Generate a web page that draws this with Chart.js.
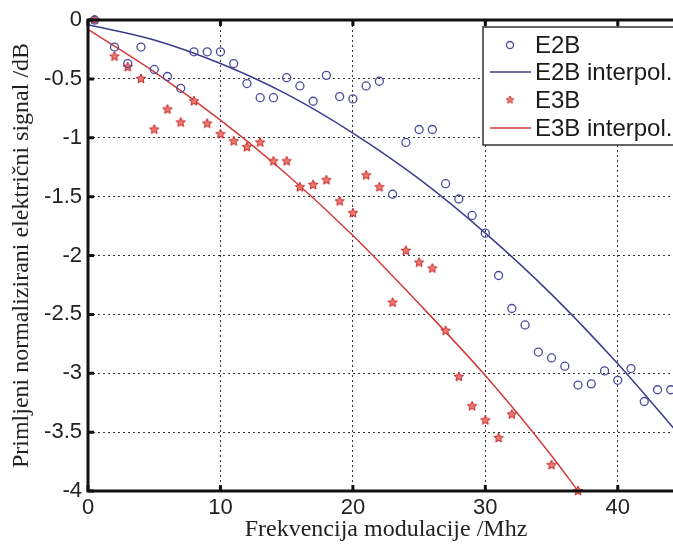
<!DOCTYPE html>
<html>
<head>
<meta charset="utf-8">
<script src="https://cdn.jsdelivr.net/npm/chart.js@4.4.0/dist/chart.umd.min.js"></script>
<style>
  html, body { margin: 0; padding: 0; background: #fff; overflow: hidden; }
  #wrap { position: relative; width: 700px; height: 545px; }
</style>
</head>
<body>
<div id="wrap"><canvas id="chart"></canvas></div>
<script>
// measured points (frequency in MHz, normalized signal in dB)
const e2bFreq = [0.5, 2, 3, 4, 5, 6, 7, 8, 9, 10, 11, 12, 13, 14, 15, 16, 17, 18, 19, 20, 21, 22,
  23, 24, 25, 26, 27, 28, 29, 30, 31, 32, 33, 34, 35, 36, 37, 38, 39, 40, 41, 42, 43, 44];
const e2bVals = [0, -0.23, -0.37, -0.23, -0.42, -0.48, -0.58, -0.27, -0.27, -0.27, -0.37, -0.54,
  -0.66, -0.66, -0.49, -0.56, -0.69, -0.47, -0.65, -0.67, -0.56, -0.52, -1.48, -1.04, -0.93, -0.93,
  -1.39, -1.52, -1.66, -1.81, -2.17, -2.45, -2.59, -2.82, -2.87, -2.94, -3.10, -3.09, -2.98, -3.06,
  -2.96, -3.24, -3.14, -3.14];

const e3bFreq = [0.5, 2, 3, 4, 5, 6, 7, 8, 9, 10, 11, 12, 13, 14, 15, 16, 17, 18, 19, 20, 21, 22,
  23, 24, 25, 26, 27, 28, 29, 30, 31, 32, 35, 37];
const e3bVals = [0, -0.31, -0.40, -0.50, -0.93, -0.76, -0.87, -0.69, -0.88, -0.97, -1.03, -1.08,
  -1.04, -1.20, -1.20, -1.42, -1.40, -1.36, -1.54, -1.64, -1.32, -1.42, -2.40, -1.96, -2.06, -2.11,
  -2.64, -3.03, -3.28, -3.40, -3.55, -3.35, -3.78, -4.0];

// interpolation curves
const e2bFitFreq = [0, 5, 10, 15, 20, 25, 30, 35, 40, 45];
const e2bFitVals = [-0.04, -0.17, -0.37, -0.63, -0.96, -1.35, -1.81, -2.33, -2.92, -3.57];
const e3bFitFreq = [0, 5, 10, 15, 20, 25, 30, 35, 37];
const e3bFitVals = [-0.08, -0.44, -0.85, -1.31, -1.83, -2.41, -3.02, -3.70, -4.0];

const legendLabels = ["E2B", "E2B interpol.", "E3B", "E3B interpol."];
const xTitle = "Frekvencija modulacije /Mhz";
const yTitle = "Primljeni normalizirani električni signal /dB";

const BLUE = "#4a4a9c";
const BLUE_LINE = "#3b3b8e";
const RED = "#d23a3a";
const STAR_FILL = "#f07a72";
const SANS = "'Liberation Sans', Arial, sans-serif";
const SERIF = "'Liberation Serif', 'Times New Roman', serif";

const toXY = (xs, ys) => xs.map((x, i) => ({ x: x, y: ys[i] }));

function makeStar(size) {
  const c = document.createElement("canvas");
  c.width = size;
  c.height = size;
  const g = c.getContext("2d");
  const cx = size / 2, cy = size / 2, ro = size / 2 - 1, ri = ro * 0.45;
  g.beginPath();
  for (let i = 0; i < 10; i++) {
    const r = i % 2 === 0 ? ro : ri;
    const a = -Math.PI / 2 + i * Math.PI / 5;
    const px = cx + r * Math.cos(a), py = cy + r * Math.sin(a);
    if (i === 0) g.moveTo(px, py); else g.lineTo(px, py);
  }
  g.closePath();
  g.fillStyle = STAR_FILL;
  g.fill();
  g.strokeStyle = "#c02828";
  g.lineWidth = 1;
  g.stroke();
  return c;
}
const starImg = makeStar(12);

// axes frame + inward ticks + matlab-like legend box
const framePlugin = {
  id: "frame",
  afterDatasetsDraw(chart) {
    const { ctx, chartArea: a, scales } = chart;
    ctx.save();
    ctx.strokeStyle = "#111";
    ctx.lineWidth = 3;
    ctx.beginPath();
    ctx.moveTo(a.left - 1.5, a.top);
    ctx.lineTo(a.right, a.top);
    ctx.moveTo(a.left, a.top);
    ctx.lineTo(a.left, a.bottom);
    ctx.moveTo(a.left - 1.5, a.bottom);
    ctx.lineTo(a.right, a.bottom);
    ctx.stroke();
    ctx.beginPath();
    scales.x.ticks.forEach((t) => {
      const px = scales.x.getPixelForValue(t.value);
      ctx.moveTo(px, a.bottom);
      ctx.lineTo(px, a.bottom - 6);
      ctx.moveTo(px, a.top);
      ctx.lineTo(px, a.top + 6);
    });
    scales.y.ticks.forEach((t) => {
      const py = scales.y.getPixelForValue(t.value);
      ctx.moveTo(a.left, py);
      ctx.lineTo(a.left + 6, py);
    });
    ctx.stroke();
    ctx.restore();
  },
  afterDraw(chart) {
    const ctx = chart.ctx;
    const bx = 483, by = 27, bw = 215, bh = 118;
    ctx.save();
    ctx.fillStyle = "#fff";
    ctx.fillRect(bx, by, bw, bh);
    ctx.strokeStyle = "#333";
    ctx.lineWidth = 1.5;
    ctx.strokeRect(bx, by, bw, bh);
    const rows = [45, 72, 100, 128];
    // E2B marker
    ctx.strokeStyle = BLUE;
    ctx.lineWidth = 1.3;
    ctx.beginPath();
    ctx.arc(510, rows[0], 3.5, 0, Math.PI * 2);
    ctx.stroke();
    // E2B line
    ctx.strokeStyle = BLUE_LINE;
    ctx.lineWidth = 1.5;
    ctx.beginPath();
    ctx.moveTo(490, rows[1]);
    ctx.lineTo(531, rows[1]);
    ctx.stroke();
    // E3B star
    ctx.drawImage(starImg, 510 - 5, rows[2] - 5, 10, 10);
    // E3B line
    ctx.strokeStyle = RED;
    ctx.beginPath();
    ctx.moveTo(490, rows[3]);
    ctx.lineTo(531, rows[3]);
    ctx.stroke();
    ctx.fillStyle = "#1a1a1a";
    ctx.font = "24px " + SANS;
    ctx.textBaseline = "middle";
    legendLabels.forEach((lbl, i) => ctx.fillText(lbl, 535, rows[i] + 1));
    ctx.restore();
  },
};

const gridStyle = {
  color: "#333",
  lineWidth: 1,
  drawTicks: false,
};

new Chart("chart", {
  type: "scatter",
  data: {
    datasets: [
      {
        label: legendLabels[0],
        data: toXY(e2bFreq, e2bVals),
        pointStyle: "circle",
        pointRadius: 4,
        borderColor: BLUE,
        backgroundColor: "rgba(0,0,0,0)",
        borderWidth: 1.3,
        showLine: false,
      },
      {
        label: legendLabels[1],
        data: toXY(e2bFitFreq, e2bFitVals),
        showLine: true,
        borderColor: BLUE_LINE,
        borderWidth: 1.5,
        pointRadius: 0,
        cubicInterpolationMode: "monotone",
      },
      {
        label: legendLabels[2],
        data: toXY(e3bFreq, e3bVals),
        pointStyle: starImg,
        pointRadius: 5,
        showLine: false,
      },
      {
        label: legendLabels[3],
        data: toXY(e3bFitFreq, e3bFitVals),
        showLine: true,
        borderColor: RED,
        borderWidth: 1.5,
        pointRadius: 0,
        cubicInterpolationMode: "monotone",
      },
    ],
  },
  options: {
    responsive: true,
    maintainAspectRatio: false,
    animation: false,
    clip: false,
    layout: { padding: { top: 20, right: 16, left: 0, bottom: 0 } },
    plugins: {
      legend: { display: false },
      tooltip: { enabled: false },
    },
    scales: {
      x: {
        type: "linear",
        min: 0,
        max: 45,
        afterFit(s) { s.height = 54; },
        ticks: {
          stepSize: 10,
          includeBounds: false,
          padding: 4,
          maxRotation: 0,
          color: "#222",
          font: { family: SANS, size: 22 },
        },
        grid: gridStyle,
        border: { display: false, dash: [2, 3] },
        title: {
          display: true,
          text: xTitle,
          color: "#222",
          font: { family: SERIF, size: 24 },
          padding: { top: 0, bottom: 1 },
        },
      },
      y: {
        type: "linear",
        min: -4,
        max: 0,
        afterFit(s) { s.width = 88; },
        ticks: {
          stepSize: 0.5,
          padding: 6,
          color: "#222",
          font: { family: SANS, size: 22 },
          callback: (v) => String(Number(v)),
        },
        grid: gridStyle,
        border: { display: false, dash: [2, 3] },
        title: {
          display: true,
          text: yTitle,
          color: "#222",
          font: { family: SERIF, size: 24 },
          padding: { top: 7, bottom: 0 },
        },
      },
    },
  },
  plugins: [framePlugin],
});
</script>
</body>
</html>
